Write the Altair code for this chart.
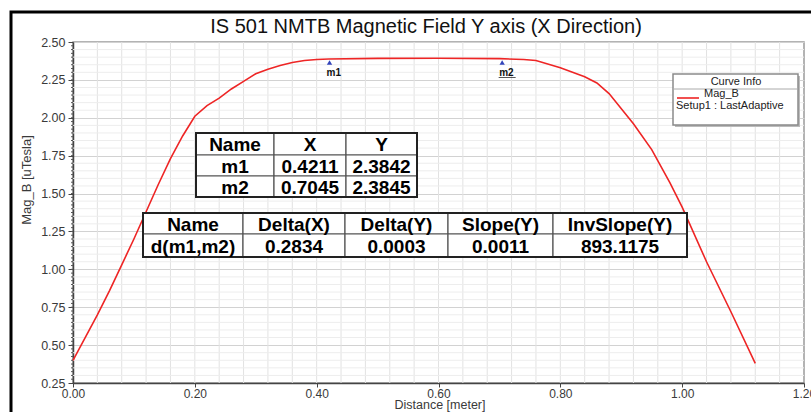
import altair as alt
import pandas as pd
import numpy as np

# ---------------- data ----------------
dist = [0.00, 0.02, 0.04, 0.06, 0.08, 0.10, 0.12, 0.14, 0.16, 0.18, 0.20, 0.22,
        0.24, 0.26, 0.28, 0.30, 0.32, 0.34, 0.36, 0.38, 0.40, 0.42, 0.50, 0.60,
        0.70, 0.74, 0.76, 0.80, 0.84, 0.86, 0.88, 0.92, 0.95, 0.98, 1.00, 1.04,
        1.08, 1.12]
mag_b = [0.40, 0.55, 0.70, 0.86, 1.03, 1.20, 1.38, 1.56, 1.73, 1.88, 2.01, 2.08,
         2.13, 2.19, 2.24, 2.29, 2.32, 2.345, 2.365, 2.378, 2.385, 2.388, 2.392, 2.393,
         2.39, 2.385, 2.378, 2.33, 2.27, 2.23, 2.16, 1.96, 1.79, 1.57, 1.41, 1.05,
         0.72, 0.38]

marker_names = ["m1", "m2"]
marker_x = [0.4211, 0.7045]
marker_y = [2.3842, 2.3845]

table1_header = ["Name", "X", "Y"]
table1_rows = [["m1", "0.4211", "2.3842"], ["m2", "0.7045", "2.3845"]]
table2_header = ["Name", "Delta(X)", "Delta(Y)", "Slope(Y)", "InvSlope(Y)"]
table2_rows = [["d(m1,m2)", "0.2834", "0.0003", "0.0011", "893.1175"]]

y_ticks = [0.25, 0.50, 0.75, 1.00, 1.25, 1.50, 1.75, 2.00, 2.25, 2.50]
x_ticks = [0.0, 0.2, 0.4, 0.6, 0.8, 1.0, 1.2]

title_text = "IS 501 NMTB Magnetic Field Y axis (X Direction)"
x_title = "Distance [meter]"
y_title = "Mag_B [uTesla]"
legend_title = "Curve Info"
legend_series = "Mag_B"
legend_setup = "Setup1 : LastAdaptive"

# ---------------- layout ----------------
W, H = 731, 341
FONT = "Liberation Sans"
RED = "#ee2525"

xs = alt.Scale(domain=[0, 1.2], nice=False, zero=False)
ys = alt.Scale(domain=[0.25, 2.5], nice=False, zero=False)

x_axis = alt.Axis(values=x_ticks, format=".2f", title=None, grid=False,
                  labelFont=FONT, labelFontSize=12, labelColor="#3a3a3a",
                  tickColor="#444", domainColor="#444", domainWidth=1.5,
                  tickSize=4, labelPadding=1, labelFlush=False)
y_axis = alt.Axis(values=y_ticks, format=".2f", title=None, grid=True,
                  gridColor="#d2d2d2", labelFont=FONT, labelFontSize=12.5,
                  labelColor="#3a3a3a", tickColor="#444", domainColor="#444",
                  domainWidth=1.5, tickSize=5, labelPadding=3)

curve = pd.DataFrame({"dist": dist, "mag": mag_b})
markers = pd.DataFrame({"name": marker_names, "x": marker_x, "y": marker_y})

# grid
vgrid = pd.DataFrame({"v": np.round(np.arange(0.04, 1.2, 0.04), 4)})
hv = np.round(np.arange(0.30, 2.5, 0.05), 4)
hv = [v for v in hv if abs(v * 4 - round(v * 4)) > 1e-6]
hgrid = pd.DataFrame({"v": hv})
yminor = pd.DataFrame({"v": np.round(np.arange(0.275, 2.5, 0.025), 4)})

vgrid_layer = alt.Chart(vgrid).mark_rule(color="#e2e2e2", strokeWidth=1).encode(
    x=alt.X("v:Q", scale=xs, axis=x_axis), y=alt.value(0), y2=alt.value(H))
hgrid_layer = alt.Chart(hgrid).mark_rule(color="#ededed", strokeWidth=1).encode(
    y=alt.Y("v:Q", scale=ys, axis=y_axis), x=alt.value(0), x2=alt.value(W))
yminor_layer = alt.Chart(yminor).mark_rule(color="#555", strokeWidth=1).encode(
    y=alt.Y("v:Q", scale=ys, axis=y_axis), x=alt.value(-2), x2=alt.value(0))

line = alt.Chart(curve).mark_line(color=RED, strokeWidth=1.6).encode(
    x=alt.X("dist:Q", scale=xs, axis=x_axis),
    y=alt.Y("mag:Q", scale=ys, axis=y_axis),
)

marker_pts = alt.Chart(markers).mark_point(
    shape="triangle-up", filled=True, color="#3344bb", size=28, yOffset=3, opacity=1
).encode(x=alt.X("x:Q", scale=xs, axis=x_axis), y=alt.Y("y:Q", scale=ys, axis=y_axis))
marker_lbl = alt.Chart(markers).mark_text(
    font=FONT, fontSize=10, fontWeight="bold", align="left", baseline="middle",
    dx=-3, dy=13, color="#111"
).encode(x=alt.X("x:Q", scale=xs, axis=x_axis), y=alt.Y("y:Q", scale=ys, axis=y_axis),
         text="name:N")
underline = alt.Chart(markers).transform_filter(alt.datum.name == "m2").mark_tick(
    orient="horizontal", size=17, thickness=1, color="#111", xOffset=5, yOffset=18
).encode(x=alt.X("x:Q", scale=xs, axis=x_axis), y=alt.Y("y:Q", scale=ys, axis=y_axis))


def table_frame(headers, rows, col_edges, row_edges):
    recs = []
    for r, row in enumerate([headers] + rows):
        for c, txt in enumerate(row):
            recs.append(dict(x=col_edges[c], x2=col_edges[c + 1],
                             y=row_edges[r], y2=row_edges[r + 1],
                             xc=(col_edges[c] + col_edges[c + 1]) / 2,
                             yc=(row_edges[r] + row_edges[r + 1]) / 2 + 1,
                             text=txt))
    cells = pd.DataFrame(recs)
    outer = pd.DataFrame([dict(x=col_edges[0], x2=col_edges[-1],
                               y=row_edges[0], y2=row_edges[-1])])
    shadow = alt.Chart(outer).mark_rect(fill="#9a9a9a", xOffset=2, yOffset=2).encode(
        x=alt.X("x:Q", scale=None), x2="x2:Q", y=alt.Y("y:Q", scale=None), y2="y2:Q")
    cell_l = alt.Chart(cells).mark_rect(fill="white", stroke="#555", strokeWidth=1.2).encode(
        x=alt.X("x:Q", scale=None), x2="x2:Q", y=alt.Y("y:Q", scale=None), y2="y2:Q")
    out_l = alt.Chart(outer).mark_rect(fill=None, stroke="#222", strokeWidth=2).encode(
        x=alt.X("x:Q", scale=None), x2="x2:Q", y=alt.Y("y:Q", scale=None), y2="y2:Q")
    txt_l = alt.Chart(cells).mark_text(font=FONT, fontSize=19, fontWeight="bold",
                                       color="#000", baseline="middle", align="center").encode(
        x=alt.X("xc:Q", scale=None), y=alt.Y("yc:Q", scale=None), text="text:N")
    return [shadow, cell_l, out_l, txt_l]


t1 = table_frame(table1_header, table1_rows, [123, 201, 273, 344], [91, 113, 134, 155])
t2 = table_frame(table2_header, table2_rows, [70, 170, 272, 375, 480, 614], [171, 192, 215])

one = pd.DataFrame([{"a": 0}])
# legend box
leg_shadow = alt.Chart(one).mark_rect(fill="#bbbbbb").encode(
    x=alt.value(602), x2=alt.value(727), y=alt.value(34), y2=alt.value(85))
leg_box = alt.Chart(one).mark_rect(
    fill="white", stroke="#8a8a8a", strokeWidth=1.5).encode(
    x=alt.value(600), x2=alt.value(725), y=alt.value(32), y2=alt.value(83))
leg_sep = alt.Chart(one).mark_rule(color="#aaa", strokeWidth=1).encode(
    x=alt.value(600), x2=alt.value(725), y=alt.value(47))
leg_line = alt.Chart(one).mark_rule(color=RED, strokeWidth=1.6).encode(
    x=alt.value(604), x2=alt.value(626), y=alt.value(56))
leg_title = alt.Chart(pd.DataFrame([{"t": legend_title}])).mark_text(
    font=FONT, fontSize=11, color="#222", align="center", baseline="middle").encode(
    x=alt.value(663), y=alt.value(40), text="t:N")
leg_s = alt.Chart(pd.DataFrame([{"t": legend_series}])).mark_text(
    font=FONT, fontSize=11, color="#222", align="left", baseline="middle").encode(
    x=alt.value(631), y=alt.value(52), text="t:N")
leg_setup = alt.Chart(pd.DataFrame([{"t": legend_setup}])).mark_text(
    font=FONT, fontSize=11, color="#222", align="left", baseline="middle").encode(
    x=alt.value(603), y=alt.value(64), text="t:N")

# titles
title_l = alt.Chart(pd.DataFrame([{"t": title_text}])).mark_text(
    font=FONT, fontSize=20, color="#111", align="center", baseline="alphabetic").encode(
    x=alt.value(353), y=alt.value(-9), text="t:N")
xt_l = alt.Chart(pd.DataFrame([{"t": x_title}])).mark_text(
    font=FONT, fontSize=12.5, color="#3a3a3a", align="center", baseline="middle").encode(
    x=alt.value(367), y=alt.value(363), text="t:N")
yt_l = alt.Chart(pd.DataFrame([{"t": y_title}])).mark_text(
    font=FONT, fontSize=13, color="#3a3a3a", align="center", baseline="middle", angle=270).encode(
    x=alt.value(-46), y=alt.value(138), text="t:N")

frame = alt.Chart(one).mark_rect(
    fill=None, stroke="#000", strokeWidth=3).encode(
    x=alt.value(-62), x2=alt.value(760), y=alt.value(-30), y2=alt.value(390))

chart = alt.layer(
    vgrid_layer, hgrid_layer, yminor_layer, line, marker_pts, marker_lbl, underline,
    *t1, *t2, leg_shadow, leg_box, leg_sep, leg_line, leg_title, leg_s, leg_setup,
    title_l, xt_l, yt_l, frame
).properties(
    width=W, height=H,
    autosize=alt.AutoSizeParams(type="none"),
    padding={"left": 73, "top": 42, "right": 7, "bottom": 29},
    background="white",
).configure_view(stroke="#9a9a9a", strokeWidth=1.5)

chart.save("out.html", embed_options={"renderer": "svg", "actions": False})
